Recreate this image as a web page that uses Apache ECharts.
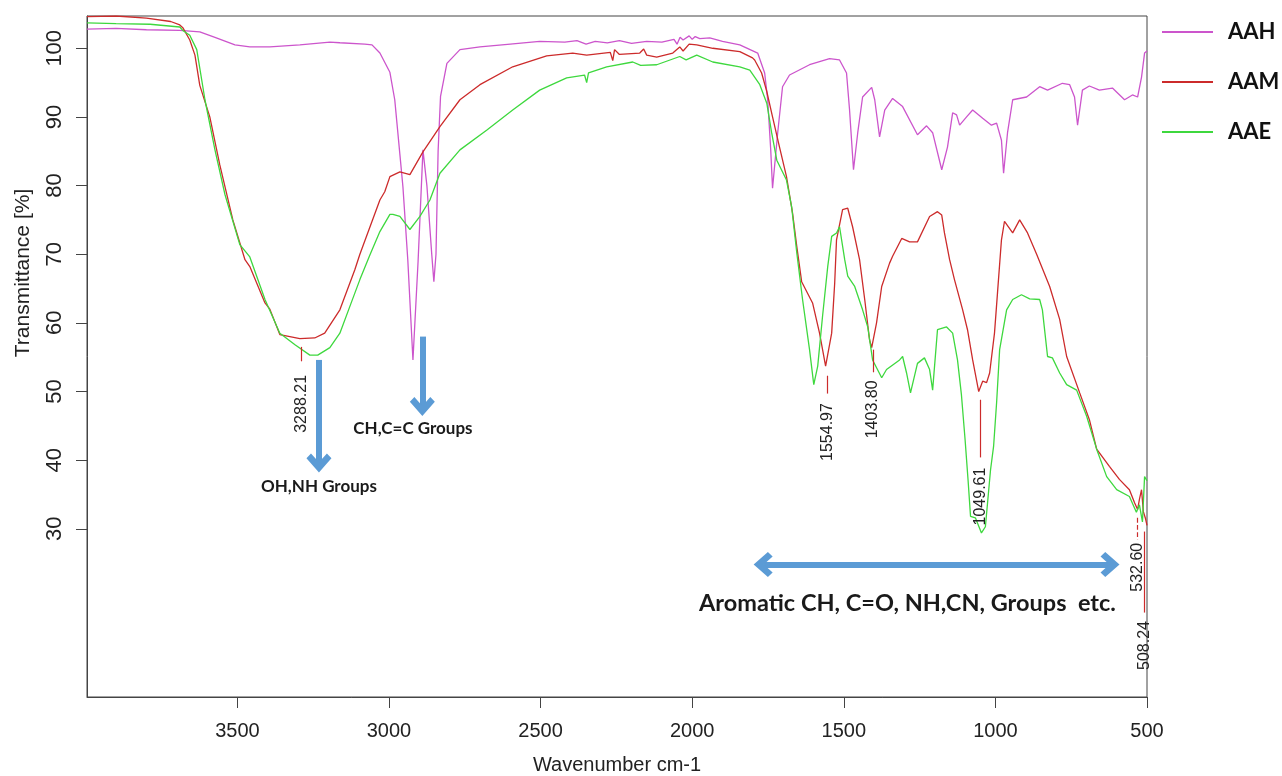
<!DOCTYPE html>
<html>
<head>
<meta charset="utf-8">
<script src="https://cdn.jsdelivr.net/npm/echarts@6/dist/echarts.min.js"></script>
<style>
  html, body { margin: 0; padding: 0; background: #fff; }
  #main { width: 1282px; height: 776px; }
</style>
</head>
<body>
<div id="main"></div>
<script>
// wavenumber [cm-1], transmittance [%]
const aahData = [
  [3996, 102.8], [3900, 102.9], [3800, 102.7], [3690, 102.6], [3624, 102.4], [3574, 101.6],
  [3508, 100.5], [3459, 100.2], [3393, 100.2], [3294, 100.5], [3195, 100.9], [3162, 100.8],
  [3080, 100.6], [3056, 100.5], [3030, 99.3], [2997, 96.5], [2981, 92.5], [2964, 84.5],
  [2954, 79.8], [2938, 69.2], [2921, 54.6], [2904, 69], [2888, 85.2], [2875, 80], [2859, 70],
  [2852, 66], [2845, 70], [2838, 85], [2830, 93], [2809, 97.8], [2766, 99.8], [2700, 100.2],
  [2600, 100.6], [2503, 101], [2420, 100.9], [2380, 101.1], [2350, 100.6], [2320, 101],
  [2280, 100.8], [2240, 101.1], [2200, 100.7], [2150, 101], [2100, 100.9], [2060, 101.3],
  [2050, 100.6], [2040, 101.6], [2030, 101.2], [2010, 101.8], [2000, 101.3], [1990, 101.7],
  [1975, 101.4], [1942, 101.5], [1900, 101.0], [1843, 100.5], [1784, 99.3], [1761, 96.4],
  [1751, 92.5], [1741, 85.2], [1735, 79.6], [1718, 87.7], [1702, 94.4], [1679, 96.1],
  [1613, 97.6], [1547, 98.5], [1514, 98.3], [1491, 96.4], [1481, 91], [1468, 82.3],
  [1454, 87.7], [1438, 92.9], [1408, 94.3], [1398, 92.5], [1382, 87.1], [1365, 91],
  [1339, 92.7], [1306, 91.5], [1257, 87.4], [1227, 88.7], [1207, 87.7], [1177, 82.3],
  [1158, 85.6], [1141, 90.6], [1128, 90.3], [1118, 88.8], [1095, 90], [1075, 91],
  [1042, 89.8], [1013, 88.8], [996, 89.1], [980, 86.6], [973, 81.8], [960, 87.7],
  [943, 92.5], [897, 92.9], [854, 94.4], [828, 93.9], [779, 94.9], [755, 94.7],
  [739, 92.9], [729, 88.8], [713, 93.9], [690, 94.5], [657, 93.9], [614, 94.2],
  [574, 92.5], [548, 93.2], [531, 92.9], [518, 95.8], [508, 99.3], [500, 99.6]
];

const aamData = [
  [3996, 104.6], [3900, 104.7], [3800, 104.4], [3720, 103.9], [3690, 103.4], [3680, 103],
  [3657, 101.2], [3640, 99], [3624, 94.6], [3591, 90], [3558, 83], [3515, 75], [3475, 69.2],
  [3459, 68.2], [3409, 62.9], [3393, 62], [3360, 58.3], [3294, 57.7], [3245, 57.8],
  [3212, 58.5], [3162, 61.9], [3113, 67.7], [3096, 70], [3030, 77.9], [3014, 79.1],
  [2997, 81.3], [2964, 82], [2931, 81.6], [2888, 84.9], [2832, 88.6], [2766, 92.5],
  [2700, 94.7], [2592, 97.3], [2480, 98.9], [2394, 99.3], [2348, 99], [2270, 99.4],
  [2262, 98.2], [2256, 99.8], [2240, 99.1], [2173, 99.3], [2160, 99.9], [2150, 99.0],
  [2117, 98.7], [2064, 99.3], [2041, 100.2], [2030, 99.6], [2010, 100.6], [1985, 100.5],
  [1932, 100], [1843, 99.5], [1801, 98.6], [1794, 98.3], [1771, 96.4], [1754, 93.7],
  [1735, 90], [1712, 85.6], [1689, 81.3], [1669, 76], [1655, 71.1], [1639, 66], [1603, 62.9],
  [1580, 58.5], [1560, 53.7], [1540, 58.5], [1530, 65.8], [1524, 72.1], [1504, 76.5],
  [1487, 76.7], [1471, 74], [1448, 69.2], [1431, 63.4], [1415, 57.5], [1408, 56.4],
  [1392, 60], [1375, 65.3], [1349, 68.7], [1339, 69.7], [1309, 72.3], [1283, 71.8],
  [1257, 71.8], [1217, 75.5], [1191, 76.2], [1177, 75.7], [1168, 73.1], [1151, 69.2],
  [1135, 66.3], [1108, 61.9], [1092, 59], [1075, 54.6], [1055, 50.0], [1042, 51.5],
  [1029, 51.3], [1019, 52.7], [1003, 58.5], [993, 64.4], [980, 72.1], [970, 74.8],
  [943, 73.1], [920, 75], [894, 73.1], [864, 70], [821, 65.3], [788, 60.5], [765, 55.1],
  [722, 49.8], [690, 45.9], [666, 41.6], [624, 39.1], [591, 37.2], [558, 35.7],
  [541, 33.8], [531, 32.8], [525, 34.3], [518, 35.7], [512, 32.5], [505, 31.5], [500, 30.5]
];

const aaeData = [
  [3996, 103.7], [3900, 103.6], [3788, 103.5], [3690, 103.1], [3680, 102.6], [3657, 101.9],
  [3634, 99.8], [3607, 92.5], [3574, 85.2], [3541, 78.7], [3492, 71.4], [3459, 69.6],
  [3409, 63.4], [3360, 58.5], [3310, 56.8], [3261, 55.3], [3235, 55.3], [3195, 56.4],
  [3162, 58.5], [3129, 62.4], [3096, 66.3], [3063, 69.9], [3030, 73.3], [2997, 75.8],
  [2987, 75.8], [2964, 75.5], [2931, 73.6], [2898, 75.5], [2865, 77.9], [2832, 81.8],
  [2766, 85.2], [2677, 88.1], [2592, 91], [2503, 93.9], [2414, 95.7], [2355, 96.1],
  [2348, 95.0], [2342, 96.4], [2282, 97.3], [2196, 98], [2170, 97.5], [2117, 97.6],
  [2041, 98.8], [2020, 98.3], [1985, 99], [1932, 98], [1843, 97.3], [1810, 96.8],
  [1777, 94.7], [1754, 92], [1738, 87.7], [1721, 83.7], [1689, 80.8], [1672, 76.9],
  [1655, 70.2], [1636, 63.4], [1613, 56.1], [1599, 51], [1586, 53.7], [1570, 61],
  [1553, 68.2], [1540, 72.6], [1524, 73.1], [1514, 74], [1497, 69.2], [1487, 66.8],
  [1464, 65.3], [1438, 61.9], [1421, 59.4], [1405, 54.6], [1375, 52], [1359, 53.2],
  [1316, 54.6], [1306, 55.1], [1293, 52.7], [1280, 49.8], [1257, 54.1], [1234, 54.9],
  [1217, 53.2], [1207, 50.2], [1191, 59], [1161, 59.4], [1141, 58.5], [1125, 54.6],
  [1112, 49.5], [1100, 43.0], [1090, 37.0], [1082, 31.8], [1066, 31.6], [1046, 29.4],
  [1033, 30.3], [1016, 38.6], [1006, 42], [996, 48.4], [986, 56.1], [963, 61.9],
  [943, 63.4], [914, 64.1], [887, 63.5], [854, 63.4], [845, 61.9], [828, 55.1],
  [812, 54.9], [788, 52.7], [765, 51], [732, 50.2], [699, 46.4], [666, 41.6],
  [633, 37.6], [600, 35.7], [558, 34.7], [535, 32.4], [525, 33.5], [515, 31],
  [508, 37.6], [500, 37]
];

// peak labels of AAM: wavenumber, tick top/bottom, label centre
const peakNames = ['3288.21', '1554.97', '1403.80', '1049.61', '532.60', '508.24'];
const peakTicks = [[56.5, 54.4], [52.3, 49.7], [56.1, 52.8], [48.8, 40.4], [31.6, 28.4], [29.6, 17.8]];
const peakLabelY = [48.2, 44.1, 47.4, 34.7, 24.4, 13.0];

const xTicks = [500, 1000, 1500, 2000, 2500, 3000, 3500];
const yTicks = [30, 40, 50, 60, 70, 80, 90, 100];

const colAAH = '#cc55cc';
const colAAM = '#cc2b2b';
const colAAE = '#3ed83e';
const blue = '#5b9bd5';
const chevron = 'path://M11,0 L22,12 L18,16 L11,8.5 L4,16 L0,12 Z';
const headSize = [25, 19];

let markLines = [];
for (let i = 0; i < peakNames.length; ++i) {
  let wn = parseFloat(peakNames[i]);
  markLines.push([
    { coord: [wn, peakTicks[i][0]], symbol: 'none',
      lineStyle: { color: colAAM, width: 1.2, type: i === 4 ? 'dashed' : 'solid' } },
    { coord: [wn, peakTicks[i][1]], symbol: 'none' }
  ]);
}
// blue arrows
markLines.push([
  { coord: [3231, 54.6], symbol: 'none', lineStyle: { color: blue, width: 6, type: 'solid' } },
  { coord: [3231, 39.6], symbol: chevron, symbolSize: headSize }
]);
markLines.push([
  { coord: [2890, 58.0], symbol: 'none', lineStyle: { color: blue, width: 6, type: 'solid' } },
  { coord: [2890, 47.8], symbol: chevron, symbolSize: headSize }
]);
markLines.push([
  { coord: [1766, 24.8], symbol: chevron, symbolSize: headSize,
    lineStyle: { color: blue, width: 6, type: 'solid' } },
  { coord: [622, 24.8], symbol: chevron, symbolSize: headSize }
]);

let markPoints = [];
for (let i = 0; i < peakNames.length; ++i) {
  markPoints.push({
    name: peakNames[i],
    coord: [parseFloat(peakNames[i]), peakLabelY[i]],
    label: { rotate: 90, fontSize: 16, fontFamily: 'Liberation Sans', color: '#222' }
  });
}
const groupLabel = { fontFamily: 'Lato', fontWeight: 'bold', fontSize: 17, color: '#1a1a1a', rotate: 0 };
markPoints.push({ name: 'OH,NH Groups', coord: [3231, 36.2], label: groupLabel });
markPoints.push({ name: 'CH,C=C Groups', coord: [2921, 44.6], label: groupLabel });
markPoints.push({ name: 'Aromatic CH, C=O, NH,CN, Groups  etc.', coord: [1290, 19.1],
  label: Object.assign({}, groupLabel, { fontSize: 23.5 }) });

const chart = echarts.init(document.getElementById('main'));
const option = {
  animation: false,
  backgroundColor: '#fff',
  grid: { left: 87, right: 135, top: 16, bottom: 79, show: true, borderColor: '#444', borderWidth: 1,
    outerBoundsMode: 'none', containLabel: false },
  legend: {
    orient: 'vertical',
    left: 1157,
    top: 16,
    itemWidth: 51,
    itemHeight: 2,
    itemGap: 28,
    icon: 'rect',
    textStyle: { fontFamily: 'Lato', fontWeight: 'bold', fontSize: 22, color: '#111',
      lineHeight: 22, padding: [0, 0, 0, 10] },
    data: ['AAH', 'AAM', 'AAE']
  },
  xAxis: {
    type: 'value',
    inverse: true,
    min: 500,
    max: 3996,
    name: 'Wavenumber cm-1',
    nameLocation: 'middle',
    nameGap: 58,
    nameTextStyle: { fontFamily: 'Liberation Sans', fontSize: 20, color: '#222' },
    splitLine: { show: false },
    axisLine: { lineStyle: { color: '#444' } },
    axisTick: { length: 11, customValues: xTicks, lineStyle: { color: '#444' } },
    axisLabel: { customValues: xTicks, margin: 24, fontFamily: 'Liberation Sans', fontSize: 20,
      color: '#222', formatter: function (v) { return String(v); } }
  },
  yAxis: {
    type: 'value',
    min: 5.5,
    max: 104.7,
    splitLine: { show: false },
    axisLine: { show: true, lineStyle: { color: '#444' } },
    axisTick: { show: true, length: 11, customValues: yTicks, lineStyle: { color: '#444' } },
    axisLabel: { customValues: yTicks, rotate: 90, margin: 21, fontFamily: 'Liberation Sans',
      fontSize: 22, color: '#222' }
  },
  graphic: [{
    type: 'text',
    x: 23, y: 273, rotation: Math.PI / 2,
    style: { text: 'Transmittance [%]', fontFamily: 'Liberation Sans', fontSize: 21, fill: '#222',
      textAlign: 'center', textVerticalAlign: 'middle' }
  }],
  series: [
    { name: 'AAH', type: 'line', data: aahData, showSymbol: false, symbol: 'none',
      lineStyle: { color: colAAH, width: 1.3 }, itemStyle: { color: colAAH } },
    { name: 'AAM', type: 'line', data: aamData, showSymbol: false, symbol: 'none',
      lineStyle: { color: colAAM, width: 1.3 }, itemStyle: { color: colAAM },
      markLine: { silent: true, animation: false, label: { show: false }, data: markLines },
      markPoint: {
        silent: true, animation: false, symbol: 'rect', symbolSize: 1,
        itemStyle: { color: 'rgba(0,0,0,0)' },
        label: { show: true, position: 'inside', formatter: '{b}' },
        data: markPoints
      } },
    { name: 'AAE', type: 'line', data: aaeData, showSymbol: false, symbol: 'none',
      lineStyle: { color: colAAE, width: 1.3 }, itemStyle: { color: colAAE } }
  ]
};
chart.setOption(option);
</script>
</body>
</html>
